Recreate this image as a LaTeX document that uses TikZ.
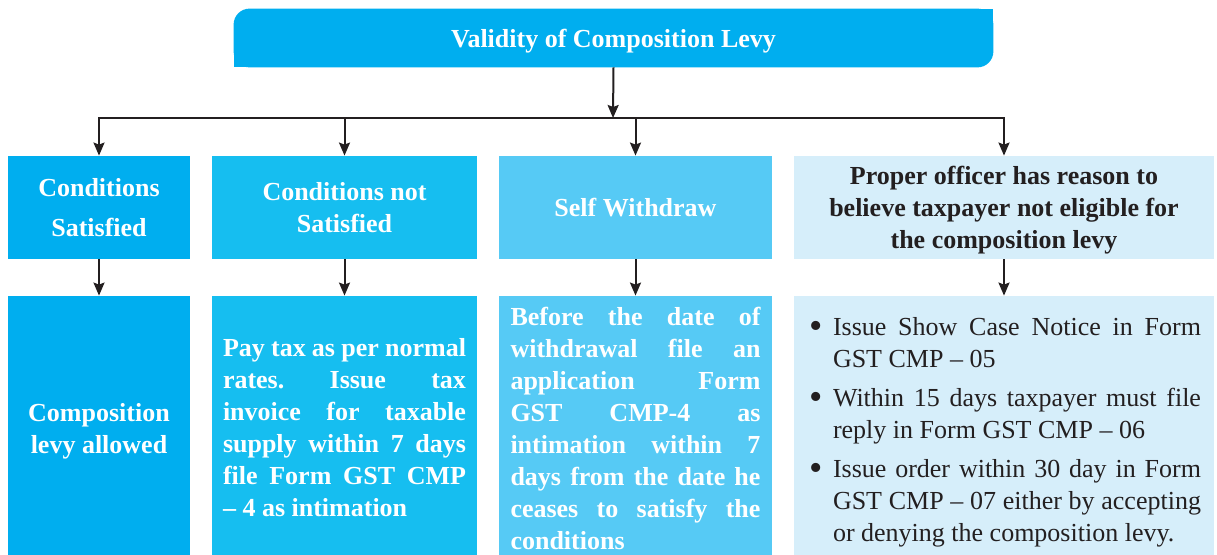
\documentclass[tikz,border=0pt]{standalone}
\usepackage{fontspec}
\setmainfont{Liberation Serif}
\usepackage{enumitem}
\usetikzlibrary{arrows.meta, positioning, calc, backgrounds}

\definecolor{levyblue}{HTML}{00AEEF}
\definecolor{notblue}{HTML}{16BEF0}
\definecolor{selfblue}{HTML}{56CAF5}
\definecolor{officerblue}{HTML}{D6EEFA}
\definecolor{inkblack}{HTML}{231F20}

\hyphenpenalty=10000
\frenchspacing

\begin{document}
\begin{tikzpicture}[
    x=0.5pt, y=-0.5pt,
    font=\fontsize{13}{16}\selectfont\bfseries,
    headbox/.style={
        fill=#1,
        text=white,
        inner sep=0pt,
        minimum height=51.5pt,
        text depth=0pt,
        align=center
    },
    resultbox/.style={
        fill=#1,
        text=white,
        inner ysep=0pt,
        minimum height=132pt,
        align=justify
    },
    flow/.style={
        -{Stealth[length=6.5pt,width=5.5pt,inset=1pt]},
        line width=1pt,
        draw=inkblack
    },
    busline/.style={
        line width=1pt,
        draw=inkblack,
        line cap=rect
    }
]
\useasboundingbox (0,0) rectangle (1217,555);

% --- TITLE ------------------------------------------------------

\node[text=white, minimum width=379.5pt, minimum height=29pt, inner sep=0pt,
      text depth=0pt]
    (title) at (613.5,38) {Validity of Composition Levy};

\begin{scope}[on background layer]
    % rounded top left and bottom right, square elsewhere
    \fill[levyblue, rounded corners=8pt] (title.south west) rectangle (title.north east);
    \fill[levyblue] (title.north east) rectangle ($(title.north east)+(-10pt,-10pt)$);
    \fill[levyblue] (title.south west) rectangle ($(title.south west)+(10pt,10pt)$);
\end{scope}

% --- CASES ------------------------------------------------------

\node[headbox=levyblue, minimum width=91pt] (cs) at (99,207.5)
    {Conditions\\[4pt]Satisfied};
\node[headbox=notblue, minimum width=132.5pt] (cn) at (344.5,207.5)
    {Conditions not\\Satisfied};
\node[headbox=selfblue, minimum width=136.5pt] (sw) at (635.5,207.5)
    {Self Withdraw};
\node[headbox=officerblue, text=inkblack, minimum width=210pt] (po) at (1004,207.5)
    {Proper officer has reason to\\believe taxpayer not eligible for\\the composition levy};

% --- OUTCOMES ---------------------------------------------------

\node[resultbox=levyblue, minimum width=91pt, inner xsep=0pt, align=center,
      text depth=0pt]
    (csr) at (99,428) {Composition\\levy allowed};
\node[resultbox=notblue, text width=121.5pt, inner xsep=5.5pt]
    (cnr) at (344.5,428)
    {Pay tax as per normal\linebreak rates. Issue tax\linebreak invoice for taxable\linebreak
     supply within 7 days\linebreak file Form GST CMP\linebreak \mbox{--} 4 as intimation};
\node[resultbox=selfblue, text width=125pt, inner xsep=5.75pt]
    (swr) at (635.5,428)
    {Before the date of\linebreak withdrawal file an\linebreak application Form\linebreak
     GST CMP-4 as\linebreak intimation within 7\linebreak days from the date he\linebreak
     ceases to satisfy the\linebreak conditions};
\node[resultbox=officerblue, text=inkblack, text width=197pt, inner xsep=6.5pt,
      minimum height=129.5pt, font=\fontsize{13}{16}\selectfont\mdseries]
    (por) at (1004,425.5)
    {\begin{itemize}[leftmargin=13pt, labelsep=5pt, itemsep=3.5pt, parsep=0pt,
                     topsep=0pt, partopsep=0pt,
                     label={\raisebox{-1.2pt}{\fontsize{19}{16}\selectfont\textbullet}}]
        \item Issue Show Case Notice in Form GST CMP -- 05
        \item Within 15 days taxpayer must file reply in Form GST CMP -- 06
        \item Issue order within 30 day in Form GST CMP -- 07 either by accepting
              or denying the composition levy.
     \end{itemize}};

% --- CONNECTORS -------------------------------------------------

\coordinate (bar) at (613,118);
\draw[flow] (title.south) -- (bar);
\draw[busline] (bar -| cs.north) -- (bar -| po.north);

\foreach \n in {cs, cn, sw, po}
    \draw[flow] (bar -| \n.north) -- (\n.north);

\foreach \a/\b in {cs/csr, cn/cnr, sw/swr, po/por}
    \draw[flow] (\a.south) -- (\b.north);

\end{tikzpicture}
\end{document}
